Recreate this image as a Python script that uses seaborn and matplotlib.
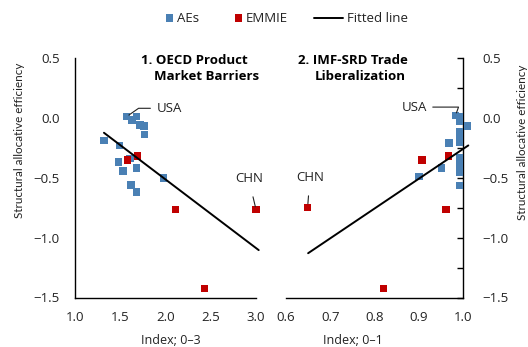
import numpy as np
import pandas as pd
import matplotlib
matplotlib.use("Agg")
import matplotlib.pyplot as plt
from matplotlib.lines import Line2D
from matplotlib.patches import Rectangle
from matplotlib.ticker import MultipleLocator
import seaborn as sns

sns.set_theme(style="white")
plt.rcParams["font.family"] = ["Open Sans", "DejaVu Sans"]

# Panel 1: OECD product market barriers index (0-3)
pmr_ae_x = [1.57, 1.68, 1.63, 1.72, 1.76, 1.77, 1.32, 1.49, 1.61, 1.48, 1.68, 1.53, 1.62, 1.68, 1.98]
pmr_ae_y = [0.01, 0.01, -0.02, -0.06, -0.07, -0.14, -0.19, -0.23, -0.34, -0.37, -0.42, -0.445, -0.56, -0.62, -0.50]
pmr_em_x = [1.58, 1.69, 2.11, 3.00, 2.43]
pmr_em_y = [-0.35, -0.32, -0.765, -0.765, -1.425]
pmr_fit = {"intercept": 0.632, "slope": -0.573, "x0": 1.32, "x1": 3.03}

# Panel 2: IMF-SRD trade liberalization index (0-1)
trd_ae_x = [0.983, 0.992, 0.992, 1.010, 0.992, 0.992, 0.992, 0.969, 0.992, 0.992, 0.992, 0.992, 0.951, 0.901, 0.992]
trd_ae_y = [0.02, 0.01, -0.03, -0.07, -0.12, -0.16, -0.20, -0.21, -0.33, -0.37, -0.41, -0.45, -0.42, -0.49, -0.565]
trd_em_x = [0.908, 0.967, 0.962, 0.649, 0.820]
trd_em_y = [-0.35, -0.32, -0.765, -0.75, -1.425]
trd_fit = {"intercept": -2.746, "slope": 2.486, "x0": 0.65, "x1": 1.012}

groups = ["AEs", "EMMIE"]
colors = {"AEs": "#4A80B4", "EMMIE": "#C00000"}
y_label = "Structural allocative efficiency"
legend_labels = ["AEs", "EMMIE", "Fitted line"]

FS = 9
W, H = 528, 347


def fx(px):
    return px / W


def fy(py):
    return 1 - py / H


def frame(ae_x, ae_y, em_x, em_y):
    return pd.DataFrame({
        "x": list(ae_x) + list(em_x),
        "y": list(ae_y) + list(em_y),
        "group": [groups[0]] * len(ae_x) + [groups[1]] * len(em_x),
    })


def fit_frame(fit):
    xs = np.array([fit["x0"], fit["x1"]])
    return pd.DataFrame({"x": xs, "y": fit["intercept"] + fit["slope"] * xs})


fig = plt.figure(figsize=(W / 100, H / 100), dpi=100)
ax1 = fig.add_axes([fx(75), fy(297.5), 181 / W, 239.5 / H])
ax2 = fig.add_axes([fx(286), fy(297.5), 177 / W, 239.5 / H])

panels = [
    (ax1, frame(pmr_ae_x, pmr_ae_y, pmr_em_x, pmr_em_y), fit_frame(pmr_fit), (1.0, 3.0), 0.5),
    (ax2, frame(trd_ae_x, trd_ae_y, trd_em_x, trd_em_y), fit_frame(trd_fit), (0.6, 1.0), 0.1),
]

for ax, df, fit, xlim, xstep in panels:
    sns.scatterplot(data=df, x="x", y="y", hue="group", hue_order=groups, palette=colors,
                    marker="s", s=30, linewidth=0, legend=False, ax=ax, clip_on=False, zorder=3)
    sns.lineplot(data=fit, x="x", y="y", color="black", linewidth=1.4, ax=ax,
                 legend=False, zorder=4)
    for ln in ax.lines:
        ln.set_clip_on(False)
    ax.set_xlim(*xlim)
    ax.set_ylim(-1.5, 0.5)
    ax.xaxis.set_major_locator(MultipleLocator(xstep))
    ax.yaxis.set_major_locator(MultipleLocator(0.5))
    ax.yaxis.set_minor_locator(MultipleLocator(0.25))
    ax.set_xlabel("")
    ax.set_ylabel("")
    ax.tick_params(axis="x", length=0, pad=10, labelsize=FS + 0.5, colors="#222222")
    ax.tick_params(axis="y", which="both", direction="in", length=4, width=1,
                   color="black", labelsize=FS + 0.5, labelcolor="#222222")
    ax.set_facecolor("none")
    for sp in ax.spines.values():
        sp.set_color("black")
        sp.set_linewidth(1.0)

fmt_x = plt.FuncFormatter(lambda v, p: f"{v:.1f}")
fmt_y = plt.FuncFormatter(lambda v, p: f"{v:.1f}".replace("-", "\u2212"))
for ax in (ax1, ax2):
    ax.xaxis.set_major_formatter(fmt_x)
    ax.yaxis.set_major_formatter(fmt_y)

ax1.spines["top"].set_visible(False)
ax1.spines["right"].set_visible(False)
ax1.tick_params(axis="y", pad=11)
ax2.spines["top"].set_visible(False)
ax2.spines["left"].set_visible(False)
ax2.yaxis.tick_right()
ax2.tick_params(axis="y", which="both", direction="in", pad=14)

# Country call-outs
ann = dict(fontsize=FS + 0.5, color="#222222")
ax1.annotate("USA", xy=(1.57, 0.01), xytext=(1.9, 0.08), va="center", ha="left",
             arrowprops=dict(arrowstyle="-", color="#222222", lw=0.8,
                             connectionstyle="angle,angleA=0,angleB=35,rad=0"), **ann)
ax1.annotate("CHN", xy=(3.0, -0.765), xytext=(2.92, -0.51), va="center", ha="center",
             arrowprops=dict(arrowstyle="-", color="#222222", lw=0.8, shrinkA=6), **ann)
ax2.annotate("USA", xy=(0.983, 0.02), xytext=(0.918, 0.09), va="center", ha="right",
             arrowprops=dict(arrowstyle="-", color="#222222", lw=0.8,
                             connectionstyle="angle,angleA=0,angleB=70,rad=0"), **ann)
ax2.annotate("CHN", xy=(0.649, -0.74), xytext=(0.654, -0.50), va="center", ha="center",
             arrowprops=dict(arrowstyle="-", color="#222222", lw=0.8, shrinkA=6), **ann)

# Panel titles
tkw = dict(fontsize=FS + 0.5, fontweight="bold", color="black", ha="center", va="center")
fig.text(fx(194), fy(61), "1. OECD Product", **tkw)
fig.text(fx(207), fy(76), "Market Barriers", **tkw)
fig.text(fx(353), fy(61), "2. IMF-SRD Trade", **tkw)
fig.text(fx(360), fy(76), "Liberalization", **tkw)

# Axis labels
lkw = dict(fontsize=FS, color="#222222", ha="center", va="center")
fig.text(fx(171), fy(340), "Index; 0\u20133", **lkw)
fig.text(fx(353), fy(340), "Index; 0\u20131", **lkw)
ykw = dict(lkw, fontsize=8.4, family=["Lato", "DejaVu Sans"])
fig.text(fx(20), fy(140), y_label, rotation=90, **ykw)
fig.text(fx(522), fy(142), y_label, rotation=90, **ykw)

# Legend row
leg_y = 18
sq = 7
for left, key, label in [(166, "AEs", legend_labels[0]), (235, "EMMIE", legend_labels[1])]:
    fig.add_artist(Rectangle((fx(left), fy(leg_y + sq / 2)), sq / W, sq / H,
                             transform=fig.transFigure, facecolor=colors[key],
                             edgecolor="none"))
    fig.text(fx(left + sq + 4), fy(leg_y), label, fontsize=FS + 0.5, color="#222222",
             ha="left", va="center")
fig.add_artist(Line2D([fx(314), fx(343)], [fy(leg_y), fy(leg_y)], transform=fig.transFigure,
                      color="black", linewidth=1.4))
fig.text(fx(347), fy(leg_y), legend_labels[2], fontsize=FS + 0.5, color="#222222",
         ha="left", va="center")

fig.savefig("out.png", dpi=100)
